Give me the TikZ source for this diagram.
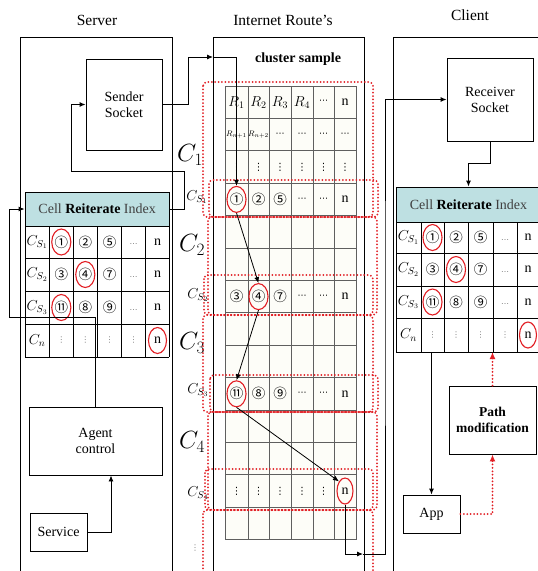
\documentclass[tikz,border=0pt]{standalone}
\usepackage{fontspec}
\setmainfont{Liberation Serif}
\newfontfamily\circfont{Noto Sans CJK SC}
\newfontfamily\symfont{DejaVu Sans}
\usetikzlibrary{arrows.meta,shapes.geometric}
\definecolor{hdr}{RGB}{190,224,226}
\definecolor{rdot}{RGB}{226,30,36}
\definecolor{gline}{RGB}{95,95,95}
\definecolor{cellbg}{RGB}{253,253,248}
\begin{document}
\begin{tikzpicture}[x=1pt,y=-1pt,
  box/.style={draw,line width=0.9pt,rectangle,inner sep=0pt,align=center,font=\fontsize{14}{16}\selectfont},
  frm/.style={draw,line width=1pt},
  ttl/.style={font=\fontsize{15.5}{17}\selectfont,inner sep=0pt},
  cn/.style={font=\circfont\fontsize{13.5}{13.5}\selectfont,inner sep=0pt},
  txt/.style={font=\fontsize{14}{14}\selectfont,inner sep=0pt},
  hd3/.style={font=\symfont\fontsize{9}{9}\selectfont,inner sep=0pt},
  vd/.style={font=\symfont\fontsize{10}{10}\selectfont,inner sep=0pt},
  dt/.style={font=\symfont\fontsize{8}{8}\selectfont,text=gray,inner sep=0pt},
  csl/.style={font=\fontsize{14}{14}\selectfont,inner sep=0pt},
  bigc/.style={font=\fontsize{24}{24}\selectfont,inner sep=0pt},
  rc/.style={ellipse,draw=rdot,line width=1.1pt,minimum width=15pt,minimum height=26pt,inner sep=0pt},
  hd/.style={draw,line width=0.9pt,fill=hdr,inner sep=0pt,font=\fontsize{14}{14}\selectfont},
  arr/.style={-{Latex[length=6pt,width=5pt]},line width=0.9pt},
  rarr/.style={draw=rdot,line width=2pt,line cap=round,dash pattern=on 0pt off 3.4pt,-{Latex[length=7pt,width=6pt]}},
  rgrp/.style={draw=rdot,line width=2pt,line cap=round,dash pattern=on 0pt off 3.4pt,rounded corners=4pt},
]
\useasboundingbox (0,0) rectangle (538,571);
\fill[white] (0,0) rectangle (538,571);

% titles
\node[ttl] (tserver) at (97,20) {Server};
\node[ttl] (tnet) at (283,20) {Internet Route's};
\node[ttl] (tclient) at (470,15) {Client};

% frames
\draw[frm] (20,580) -- (20,37) -- (172,37) -- (172,580);
\draw[frm] (213,580) -- (213,37) -- (364,37) -- (364,580);
\draw[frm] (393,580) -- (393,37) -- (545,37) -- (545,580);

% server boxes
\node[box,minimum width=76pt,minimum height=91pt] (sender) at (124,104.5) {Sender\\Socket};
\node[box,minimum width=133pt,minimum height=68pt] (agent) at (95.5,441) {Agent\\control};
\node[box,minimum width=57pt,minimum height=38pt] (service) at (58.5,532) {Service};

% server table
\fill[white] (25,226) rectangle (169.3,357);
\foreach \x in {25,49.3,73.3,97.3,121.7,145.7,169.3} \draw[line width=0.9pt] (\x,226) -- (\x,357);
\foreach \y in {226,258,291,324,357} \draw[line width=0.9pt] (25,\y) -- (169.3,\y);
\node[hd,minimum width=144.3pt,minimum height=34pt] (shead) at (97.15,209) {\textcolor{black!75}{Cell} \textbf{Reiterate} \textcolor{black!75}{Index}};
\node[csl] (sl1) at (37.2,242) {$C_{S_1}$};
\node[csl] (sl2) at (37.2,274.5) {$C_{S_2}$};
\node[csl] (sl3) at (37.2,307.5) {$C_{S_3}$};
\node[csl] (sl4) at (37.2,340.5) {$C_{n}$};
\node[cn,rc] (s11) at (61.3,242) {①};
\node[cn] (s12) at (85.3,242) {②};
\node[cn] (s13) at (109.5,242) {⑤};
\node[dt] (s14) at (133.7,244) {…};
\node[txt] (s15) at (157.5,242) {n};
\node[cn] (s21) at (61.3,274.5) {③};
\node[cn,rc] (s22) at (85.3,274.5) {④};
\node[cn] (s23) at (109.5,274.5) {⑦};
\node[dt] (s24) at (133.7,276.5) {…};
\node[txt] (s25) at (157.5,274.5) {n};
\node[cn,rc] (s31) at (61.3,307.5) {⑪};
\node[cn] (s32) at (85.3,307.5) {⑧};
\node[cn] (s33) at (109.5,307.5) {⑨};
\node[dt] (s34) at (133.7,309.5) {…};
\node[txt] (s35) at (157.5,307.5) {n};
\node[dt] (s41) at (61.3,340.5) {⋮};
\node[dt] (s42) at (85.3,340.5) {⋮};
\node[dt] (s43) at (109.5,340.5) {⋮};
\node[dt] (s44) at (133.7,340.5) {⋮};
\node[txt,rc,minimum width=18pt] (s45) at (157.5,340.5) {n};

% internet table
\fill[cellbg] (225,86) rectangle (356,539.6);
\foreach \x in {225,248,269,291,313,334,356} \draw[gline,line width=0.8pt] (\x,86) -- (\x,539.6);
\foreach \k in {0,...,14} \draw[gline,line width=0.8pt] (225,86+32.4*\k) -- (356,86+32.4*\k);
\node[font=\bfseries\fontsize{14}{14}\selectfont,inner sep=0pt] (clus) at (298,59) {cluster sample};
% row 1
\node[font=\fontsize{14.5}{15}\selectfont,inner sep=0pt] (i11) at (236.5,102.2) {$R_1$};
\node[font=\fontsize{14.5}{15}\selectfont,inner sep=0pt] (i12) at (258.5,102.2) {$R_2$};
\node[font=\fontsize{14.5}{15}\selectfont,inner sep=0pt] (i13) at (280,102.2) {$R_3$};
\node[font=\fontsize{14.5}{15}\selectfont,inner sep=0pt] (i14) at (302,102.2) {$R_4$};
\node[hd3] (i15) at (323.5,102.2) {⋯};
\node[txt] (i16) at (345,102.2) {n};
% row 2
\node[font=\fontsize{8}{8}\selectfont,inner sep=0pt] (i21) at (236.5,134.6) {$R_{n+1}$};
\node[font=\fontsize{8}{8}\selectfont,inner sep=0pt] (i22) at (258.5,134.6) {$R_{n+2}$};
\node[hd3] (i23) at (280,134.6) {⋯};
\node[hd3] (i24) at (302,134.6) {⋯};
\node[hd3] (i25) at (323.5,134.6) {⋯};
\node[hd3] (i26) at (345,134.6) {⋯};
% row 3
\node[vd] (i31) at (236.5,167) {⋮};
\node[vd] (i32) at (258.5,167) {⋮};
\node[vd] (i33) at (280,167) {⋮};
\node[vd] (i34) at (302,167) {⋮};
\node[vd] (i35) at (323.5,167) {⋮};
\node[vd] (i36) at (345,167) {⋮};
% row 4
\node[cn,rc,minimum width=14pt] (i41) at (236.5,199.4) {①};
\node[cn] (i42) at (258.5,199.4) {②};
\node[cn] (i43) at (280,199.4) {⑤};
\node[hd3] (i44) at (302,199.4) {⋯};
\node[hd3] (i45) at (323.5,199.4) {⋯};
\node[txt] (i46) at (345,199.4) {n};
% row 7
\node[cn] (i71) at (236.5,296.6) {③};
\node[cn,rc,minimum width=14pt] (i72) at (258.5,296.6) {④};
\node[cn] (i73) at (280,296.6) {⑦};
\node[hd3] (i74) at (302,296.6) {⋯};
\node[hd3] (i75) at (323.5,296.6) {⋯};
\node[txt] (i76) at (345,296.6) {n};
% row 10
\node[cn,rc,minimum width=14pt] (i101) at (236.5,393.8) {⑪};
\node[cn] (i102) at (258.5,393.8) {⑧};
\node[cn] (i103) at (280,393.8) {⑨};
\node[hd3] (i104) at (302,393.8) {⋯};
\node[hd3] (i105) at (323.5,393.8) {⋯};
\node[txt] (i106) at (345,393.8) {n};
% row 13
\node[vd] (i131) at (236.5,491) {⋮};
\node[vd] (i132) at (258.5,491) {⋮};
\node[vd] (i133) at (280,491) {⋮};
\node[vd] (i134) at (302,491) {⋮};
\node[vd] (i135) at (323.5,491) {⋮};
\node[txt,rc,minimum width=16pt] (i136) at (345,491) {n};

% left labels
\node[bigc] (c1) at (190,155) {$C_1$};
\node[bigc] (c2) at (192,245) {$C_2$};
\node[bigc] (c3) at (192,343) {$C_3$};
\node[bigc] (c4) at (192,442) {$C_4$};
\node[csl] (cs1) at (197,197) {$C_{S_1}$};
\node[csl] (cs2) at (198,295) {$C_{S_2}$};
\node[csl] (cs3) at (198,390) {$C_{S_3}$};
\node[csl] (cs4) at (198,493) {$C_{S_4}$};
\node[dt] (vdl) at (195,548) {⋮};

% red groups
\draw[rgrp] (203,82) rectangle (373,217);
\draw[rgrp] (209,180) rectangle (378,217);
\draw[rgrp] (208,217) rectangle (377,315);
\draw[rgrp] (204,275) rectangle (373,315);
\draw[rgrp] (203,315) rectangle (373,412);
\draw[rgrp] (210,375) rectangle (378,412);
\draw[rgrp] (208,412) rectangle (377,510);
\draw[rgrp] (205,469) rectangle (373,510);
\draw[rgrp] (203,510) rectangle (373,600);

% client boxes
\node[box,minimum width=86pt,minimum height=83pt] (receiver) at (490,99.5) {Receiver\\Socket};
\node[box,minimum width=87pt,minimum height=68pt,font=\bfseries\fontsize{13.5}{16}\selectfont] (path) at (492.5,420) {Path\\modification};
\node[box,minimum width=57pt,minimum height=38pt] (app) at (431.5,514) {App};

% client table
\fill[white] (396,222) rectangle (541,352);
\foreach \x in {396,421,444,468,493,517,541} \draw[line width=0.9pt] (\x,222) -- (\x,352);
\foreach \y in {222,253,286,318,352} \draw[line width=0.9pt] (396,\y) -- (541,\y);
\node[hd,minimum width=145pt,minimum height=35pt] (chead) at (468.5,204.5) {\textcolor{black!75}{Cell} \textbf{Reiterate} \textcolor{black!75}{Index}};
\node[csl] (cl1) at (408.5,237.5) {$C_{S_1}$};
\node[csl] (cl2) at (408.5,269.5) {$C_{S_2}$};
\node[csl] (cl3) at (408.5,302) {$C_{S_3}$};
\node[csl] (cl4) at (408.5,335) {$C_{n}$};
\node[cn,rc] (c11) at (432.5,237.5) {①};
\node[cn] (c12) at (456,237.5) {②};
\node[cn] (c13) at (480.5,237.5) {⑤};
\node[dt] (c14) at (505,239.5) {…};
\node[txt] (c15) at (528,237.5) {n};
\node[cn] (c21) at (432.5,269.5) {③};
\node[cn,rc] (c22) at (456,269.5) {④};
\node[cn] (c23) at (480.5,269.5) {⑦};
\node[dt] (c24) at (505,271.5) {…};
\node[txt] (c25) at (528,269.5) {n};
\node[cn,rc] (c31) at (432.5,302) {⑪};
\node[cn] (c32) at (456,302) {⑧};
\node[cn] (c33) at (480.5,302) {⑨};
\node[dt] (c34) at (505,304) {…};
\node[txt] (c35) at (528,302) {n};
\node[dt] (c41) at (432.5,335) {⋮};
\node[dt] (c42) at (456,335) {⋮};
\node[dt] (c43) at (480.5,335) {⋮};
\node[dt] (c44) at (505,335) {⋮};
\node[txt,rc,minimum width=17pt] (c45) at (528,335) {n};

% connectors
\coordinate (ir) at (213,57);
\draw[arr] (sender.east) -- (188,104.5) -- (188,57) -- (ir);
\draw[arr] (ir) -| (i41.north);
\draw[arr] (shead.east) -- (184,209) |- (71,171) |- (sender.west);
\draw[arr] (agent.north) |- (9,317) |- (shead.west);
\draw[arr] (service.east) -| ([xshift=15.5pt]agent.south);
\draw[arr,line width=0.8pt] (i41.south) -- (i72.north);
\draw[arr,line width=0.8pt] (i72.south) -- (i101.north);
\draw[arr,line width=0.8pt] (i101.south) -- (i136.north west);
\coordinate (ex) at (363,554);
\draw[arr] (i136.south) |- (ex);
\draw[arr] (ex) -| (385,300) |- (receiver.west);
\draw[arr] (receiver.south) -- ++(0,22) -| (chead.north);
\coordinate (ctb) at (431.5,352);
\draw[arr] (ctb) -- (app.north);
\coordinate (ctr) at (492.5,352);
\draw[rarr] (path.north) -- (ctr);
\draw[rarr] (app.east) -| (path.south);
\end{tikzpicture}
\end{document}
